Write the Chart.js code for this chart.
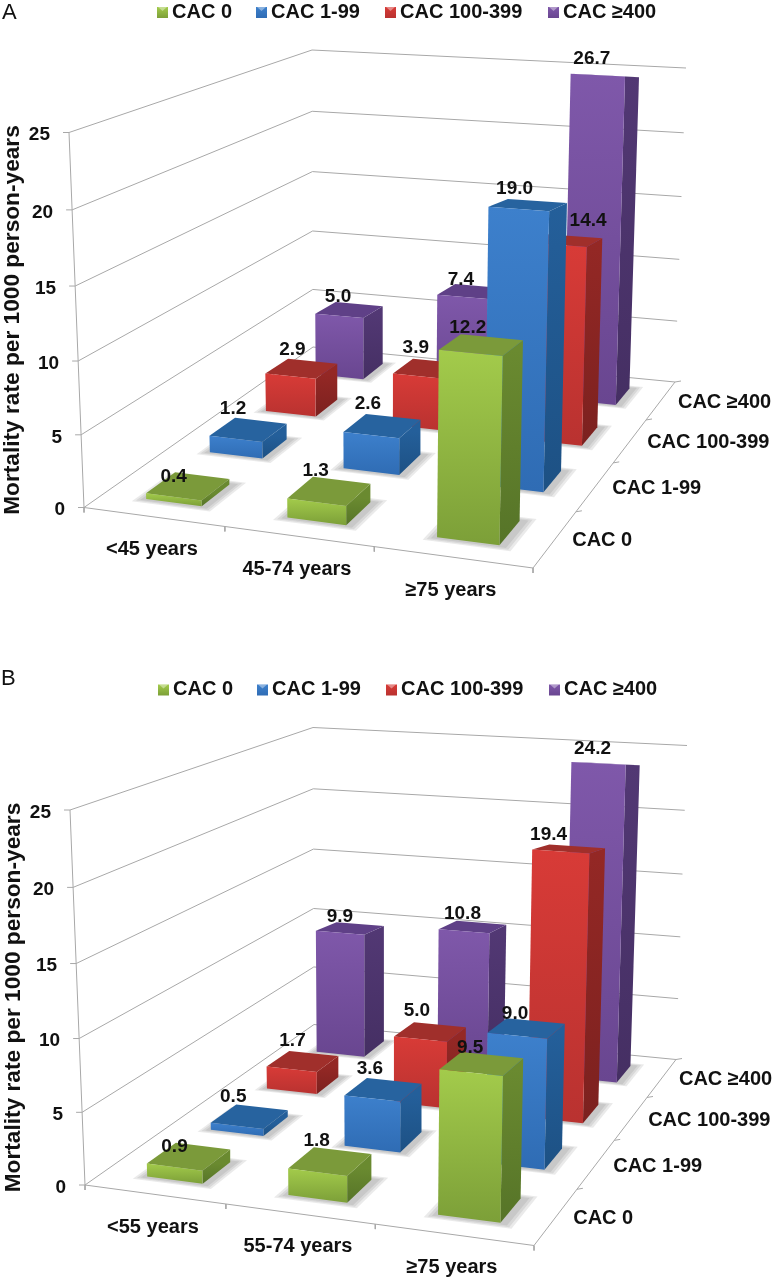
<!DOCTYPE html>
<html>
<head>
<meta charset="utf-8">
<title>Mortality rate by CAC and age</title>
<script src="https://cdn.jsdelivr.net/npm/chart.js@4"></script>
<style>
  html, body { margin: 0; padding: 0; background: #fff; }
  canvas { position: absolute; left: 0; }
</style>
</head>
<body>
<canvas id="chartA" width="774" height="660" style="top:0"></canvas>
<canvas id="chartB" width="774" height="620" style="top:660px"></canvas>
<script>
// data, one list per CAC group, values go <young, middle, >=75
const cacLabels = ["CAC 0", "CAC 1-99", "CAC 100-399", "CAC ≥400"];
const yTicks = [0, 5, 10, 15, 20, 25];
const agesA = ["<45 years", "45-74 years", "≥75 years"];
const agesB = ["<55 years", "55-74 years", "≥75 years"];

const cac0A = [0.4, 1.3, 12.2];
const cac1A = [1.2, 2.6, 19.0];
const cac100A = [2.9, 3.9, 14.4];
const cac400A = [5.0, 7.4, 26.7];

const cac0B = [0.9, 1.8, 9.5];
const cac1B = [0.5, 3.6, 9.0];
const cac100B = [1.7, 5.0, 19.4];
const cac400B = [9.9, 10.8, 24.2];

const yTitle = "Mortality rate per 1000 person-years";

// hand nudges for the value labels, the original had them moved around too
const nudgeA = [[[-1, 11], [0, 0], [0, 5]], [[-2, -1], [-1, -2], [0, 7]], [[4, 2], [0, 0], [35, 3]], [[2, 8], [3, 10], [0, 7]]];
const nudgeB = [[[-1, 11], [0, 0], [2, 6]], [[-3, 0], [0, 0], [2, 7]], [[3, 0], [0, 0], [-7, 9]], [[3, 10], [3, 9], [0, 9]]];

// colours per series: front top, front bottom, top face, side top, side bottom
const palette = [
  ["#a3cb4b", "#7c9f38", "#7b9a3a", "#6a8a30", "#567428"],
  ["#3d80cc", "#2f6cb4", "#27639f", "#245f9a", "#1d5184"],
  ["#d83b37", "#b93230", "#a02f2b", "#942825", "#7c211f"],
  ["#7f58aa", "#694690", "#5f4087", "#523874", "#452f63"]
];
const font = "'Liberation Sans', Arial, sans-serif";

// floor corners and the height of one unit at each of them (panel A pixels)
const FL = [84, 507.5], FR = [533, 568], BR = [675, 382], BL = [313, 347];
const upFL = [-0.6, -15], upFR = [0.35, -16.2], upBR = [0.44, -12.56], upBL = [-0.04, -11.88];
const nAge = 3, nCac = 4;
const axisMax = yTicks[yTicks.length - 1];

const sx = FL[0] - FR[0] + BR[0] - BL[0], sy = FL[1] - FR[1] + BR[1] - BL[1];
const dx1 = FR[0] - BR[0], dx2 = BL[0] - BR[0], dy1 = FR[1] - BR[1], dy2 = BL[1] - BR[1];
const den = dx1 * dy2 - dx2 * dy1;
const g = (sx * dy2 - dx2 * sy) / den, h = (dx1 * sy - sx * dy1) / den;
const a = FR[0] - FL[0] + g * FR[0], b = BL[0] - FL[0] + h * BL[0];
const d = FR[1] - FL[1] + g * FR[1], e = BL[1] - FL[1] + h * BL[1];

// age index, cac index, value -> point in the chart's x/y scale units
function project(i, j, v, off) {
  const u = i / nAge, w = j / nCac;
  const q = g * u + h * w + 1;
  const fx = (a * u + b * w + FL[0]) / q, fy = (d * u + e * w + FL[1]) / q;
  const ux = (1 - u) * (1 - w) * upFL[0] + u * (1 - w) * upFR[0] + u * w * upBR[0] + (1 - u) * w * upBL[0];
  const uy = (1 - u) * (1 - w) * upFL[1] + u * (1 - w) * upFR[1] + u * w * upBR[1] + (1 - u) * w * upBL[1];
  const z = v / (1 + 0.0016 * (axisMax - v));
  return { x: fx + ux * z + off[0], y: fy + uy * z + off[1] };
}

function lineSet(points, color) {
  return { data: points, showLine: true, pointRadius: 0, borderWidth: 1, borderColor: color || "#a8a8a8", fill: false };
}
function faceSet(points, color) {
  return { data: points, showLine: true, pointRadius: 0, borderWidth: 0, fill: "shape", backgroundColor: color };
}

function buildDatasets(ctx, series, off) {
  const P = (i, j, v) => project(i, j, v, off);
  const sets = [];

  // walls and floor edges
  yTicks.forEach(t => {
    if (t > 0) sets.push(lineSet([P(0, 0, t), P(0, nCac, t), P(nAge, nCac, t)]));
    const p = P(0, 0, t);
    sets.push(lineSet([p, { x: p.x - 6, y: p.y }]));
  });
  sets.push(lineSet([P(0, 0, 0), P(0, 0, axisMax)]));
  sets.push(lineSet([P(0, 0, 0), P(0, nCac, 0), P(nAge, nCac, 0), P(nAge, 0, 0), P(0, 0, 0)]));
  for (let i = 0; i <= nAge; i++) {
    const p = P(i, 0, 0);
    sets.push(lineSet([p, { x: p.x, y: p.y + 5 }]));
  }
  for (let j = 1; j <= nCac; j++) {
    const p = P(nAge, j, 0);
    sets.push(lineSet([p, { x: p.x + 6, y: p.y - 1 }]));
  }

  const hw = 0.2, hd = 0.22, mid = 0.51;
  // soft shadow on the floor, a few wider and wider footprints
  series.forEach((vals, j) => vals.forEach((v, i) => {
    [0.07, 0.05, 0.03].forEach(grow => {
      const x0 = i + mid - hw - grow, x1 = i + mid + hw + grow + 0.02;
      const y0 = j + 0.5 - hd - grow, y1 = j + 0.5 + hd + grow;
      sets.push(faceSet([P(x0, y0, 0), P(x1, y0, 0), P(x1, y1, 0), P(x0, y1, 0)], "rgba(90,90,90,0.13)"));
    });
  }));

  // bars, back row first; the value axis stops at 25 so a taller bar gets cut there
  for (let j = series.length - 1; j >= 0; j--) {
    series[j].forEach((val, i) => {
      const v = Math.min(val, axisMax);
      const x0 = i + mid - hw, x1 = i + mid + hw, y0 = j + 0.5 - hd, y1 = j + 0.5 + hd;
      const c = palette[j];
      const f1 = P(x0, y0, v), f2 = P(x1, y0, 0);
      const frontGrad = ctx.createLinearGradient(0, f1.y, 0, f2.y);
      frontGrad.addColorStop(0, c[0]);
      frontGrad.addColorStop(1, c[1]);
      const sideGrad = ctx.createLinearGradient(0, f1.y, 0, f2.y);
      sideGrad.addColorStop(0, c[3]);
      sideGrad.addColorStop(1, c[4]);
      // the back edge of the top face sits a bit flatter the higher the bar is
      const backTop = x => { const p = P(x, y1, v); return { x: p.x, y: p.y + 0.3 * v }; };
      sets.push(faceSet([P(x1, y0, 0), P(x1, y1, 0), backTop(x1), P(x1, y0, v)], sideGrad));
      sets.push(faceSet([P(x0, y0, v), P(x1, y0, v), backTop(x1), backTop(x0)], c[2]));
      sets.push(faceSet([P(x0, y0, 0), P(x1, y0, 0), P(x1, y0, v), P(x0, y0, v)], frontGrad));
    });
  }
  // chart.js paints the last dataset first
  return sets.reverse();
}

// all the text of one panel, placed through the scales
const textPlugin = {
  id: "panelText",
  afterDatasetsDraw(chart, args, o) {
    const { ctx, scales } = chart;
    const text = (s, p, align, dx, dy) => {
      ctx.textAlign = align;
      ctx.fillText(s, scales.x.getPixelForValue(p.x) + dx, scales.y.getPixelForValue(p.y) + dy);
    };
    const P = (i, j, v) => project(i, j, v, o.off);
    const [ox, oy] = o.off;
    ctx.save();
    ctx.fillStyle = "#111";
    ctx.textBaseline = "middle";

    ctx.font = "22px " + font;
    text(o.letter, o.letterAt, "left", 0, 0);

    ctx.font = "bold 19px " + font;
    yTicks.forEach(t => text(String(t), P(0, 0, t), "right", -19, 2.5));
    o.series.forEach((vals, j) => vals.forEach((v, i) => {
      const n = o.nudge[j][i];
      text(v.toFixed(1), P(i + 0.5, j + 0.5, Math.min(v, axisMax)), "center", -12 + n[0], -20 + n[1]);
    }));

    ctx.font = "bold 20px " + font;
    o.ages.forEach((s, i) => text(s, P(i + 0.5, 0, 0), "center", -1.5, 33));
    cacLabels.forEach((s, j) => text(s, P(nAge, j + 0.5, 0), "left", 17, 2));

    // legend row
    const keyX = [157, 256, 385, 548];
    cacLabels.forEach((s, j) => {
      const kx = scales.x.getPixelForValue(keyX[j] + ox), ky = scales.y.getPixelForValue(7 + oy);
      const grad = ctx.createLinearGradient(0, ky, 0, ky + 11);
      grad.addColorStop(0, palette[j][0]);
      grad.addColorStop(1, palette[j][1]);
      ctx.fillStyle = grad;
      ctx.fillRect(kx, ky, 11, 11);
      ctx.fillStyle = "rgba(255,255,255,0.4)";
      ctx.beginPath();
      ctx.moveTo(kx + 1, ky);
      ctx.lineTo(kx + 10, ky);
      ctx.lineTo(kx + 5.5, ky + 4);
      ctx.fill();
      ctx.fillStyle = "#111";
      ctx.textAlign = "left";
      ctx.fillText(s, kx + 15, ky + 5);
    });

    // axis title
    ctx.font = "bold 22.7px " + font;
    ctx.translate(scales.x.getPixelForValue(12.5 + ox), scales.y.getPixelForValue(320 + oy));
    ctx.rotate(-Math.PI / 2);
    ctx.textAlign = "center";
    ctx.fillText(yTitle, 0, 0);
    ctx.restore();
  }
};

function makePanel(id, series, ages, nudge, letter, letterAt, off) {
  const canvas = document.getElementById(id);
  return new Chart(canvas, {
    type: "scatter",
    data: { datasets: buildDatasets(canvas.getContext("2d"), series, off) },
    plugins: [textPlugin],
    options: {
      responsive: false,
      animation: false,
      events: [],
      layout: { padding: 0 },
      scales: {
        x: { type: "linear", display: false, min: 0, max: canvas.width },
        y: { type: "linear", display: false, min: 0, max: canvas.height, reverse: true }
      },
      plugins: {
        legend: { display: false },
        tooltip: { enabled: false },
        panelText: { series, ages, nudge, letter, letterAt, off }
      }
    }
  });
}

const chartA = makePanel("chartA", [cac0A, cac1A, cac100A, cac400A], agesA, nudgeA, "A", { x: 2, y: 13 }, [0, 0]);
const chartB = makePanel("chartB", [cac0B, cac1B, cac100B, cac400B], agesB, nudgeB, "B", { x: 1, y: 19 }, [1, 17.5]);
</script>
</body>
</html>
